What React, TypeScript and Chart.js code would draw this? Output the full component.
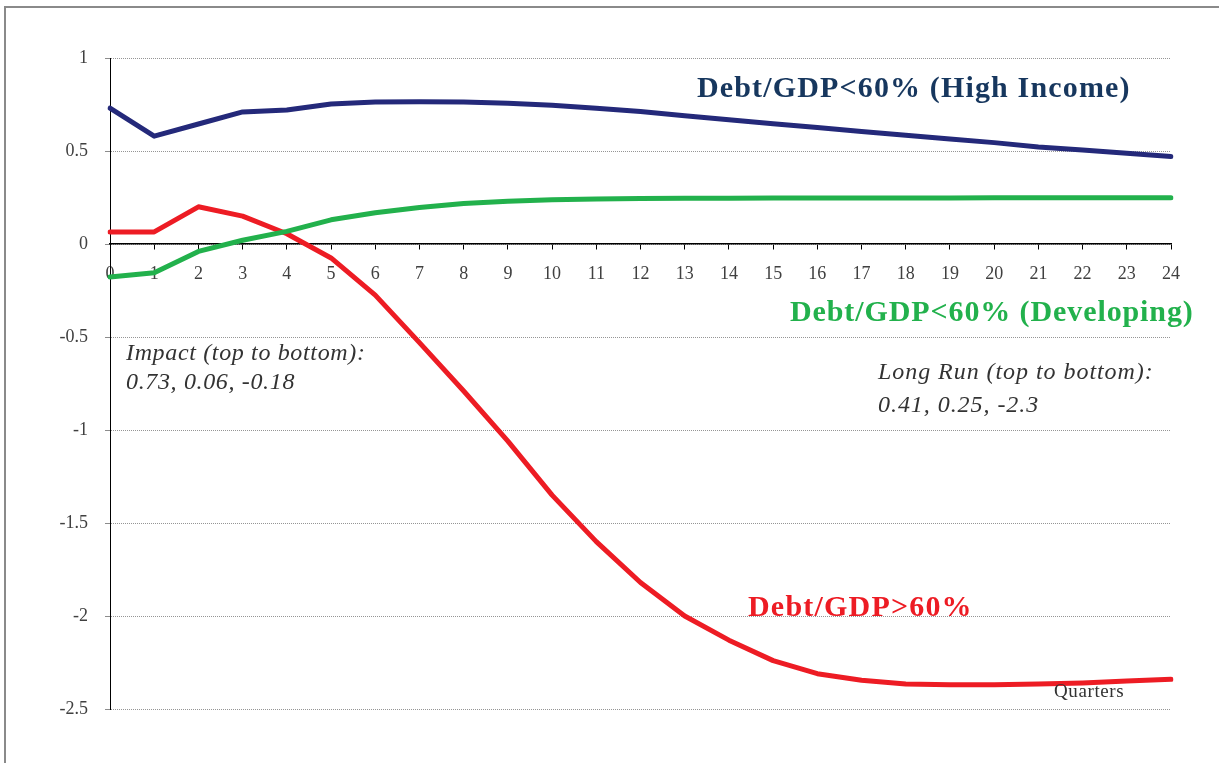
import React, { useEffect, useRef } from 'react';
import { Chart, registerables } from 'chart.js';

Chart.register(...registerables);

const quarters = ['0','1','2','3','4','5','6','7','8','9','10','11','12','13','14','15','16','17','18','19','20','21','22','23','24'];
const highIncome = [0.73, 0.58, 0.645, 0.71, 0.72, 0.753, 0.763, 0.765, 0.763, 0.757, 0.746, 0.73, 0.712, 0.69, 0.668, 0.647, 0.626, 0.605, 0.585, 0.565, 0.545, 0.522, 0.505, 0.488, 0.47];
const developing = [-0.177, -0.155, -0.04, 0.02, 0.068, 0.13, 0.168, 0.196, 0.218, 0.23, 0.238, 0.242, 0.244, 0.246, 0.246, 0.247, 0.247, 0.247, 0.247, 0.247, 0.248, 0.248, 0.248, 0.248, 0.248];
const highDebt = [0.065, 0.065, 0.2, 0.15, 0.055, -0.075, -0.275, -0.53, -0.79, -1.06, -1.35, -1.6, -1.82, -2.0, -2.13, -2.24, -2.31, -2.345, -2.365, -2.37, -2.37, -2.365, -2.36, -2.35, -2.34];
const yTicks = [1, 0.5, 0, -0.5, -1, -1.5, -2, -2.5];

const serif = '"Liberation Serif", "Times New Roman", serif';

const labelStyle = (left: number, top: number, color: string, size: number, extra: React.CSSProperties = {}): React.CSSProperties => ({
  position: 'absolute',
  left,
  top,
  color,
  fontFamily: serif,
  fontSize: size,
  lineHeight: 1,
  whiteSpace: 'nowrap',
  ...extra,
});

export default function App() {
  const canvasRef = useRef<HTMLCanvasElement | null>(null);

  useEffect(() => {
    if (!canvasRef.current) return;
    const chart = new Chart(canvasRef.current, {
      type: 'line',
      data: {
        labels: quarters,
        datasets: [
          { label: 'Debt/GDP<60% (High Income)', data: highIncome, borderColor: '#24297a', backgroundColor: '#24297a', borderWidth: 5, pointRadius: 0, tension: 0, borderCapStyle: 'round', borderJoinStyle: 'round' },
          { label: 'Debt/GDP<60% (Developing)', data: developing, borderColor: '#22b14c', backgroundColor: '#22b14c', borderWidth: 5, pointRadius: 0, tension: 0, borderCapStyle: 'round', borderJoinStyle: 'round' },
          { label: 'Debt/GDP>60%', data: highDebt, borderColor: '#ed1c24', backgroundColor: '#ed1c24', borderWidth: 5, pointRadius: 0, tension: 0, borderCapStyle: 'round', borderJoinStyle: 'round' },
        ],
      },
      options: {
        responsive: false,
        animation: false,
        events: [],
        layout: { padding: { top: 58, right: 48, bottom: 54, left: 0 } },
        plugins: { legend: { display: false }, tooltip: { enabled: false }, title: { display: false } },
        scales: {
          x: {
            type: 'category',
            position: { y: 0 } as any,
            offset: false,
            afterFit: (s: any) => { s.height = 0; },
            grid: { drawOnChartArea: false, drawTicks: true, tickLength: 5, tickColor: '#000', color: '#000' },
            border: { display: true, color: '#000', width: 1.5 },
            ticks: { autoSkip: false, maxRotation: 0, minRotation: 0, padding: 14, color: '#404040', font: { family: serif, size: 18 } },
          },
          y: {
            type: 'linear',
            min: -2.5,
            max: 1,
            afterFit: (s: any) => { s.width = 110; },
            afterBuildTicks: (s: any) => { s.ticks = yTicks.map((v) => ({ value: v })); },
            grid: { color: '#959595', lineWidth: 1, tickLength: 5, tickColor: '#8c8c8c', drawTicks: true },
            border: { display: true, color: '#000', width: 1, dash: [1, 1] },
            ticks: { padding: 17, color: '#404040', font: { family: serif, size: 18 }, callback: (v: any) => String(v) },
          },
        },
      },
    });
    return () => chart.destroy();
  }, []);

  return (
    <div style={{ position: 'fixed', left: 0, top: 0, width: 1219, height: 763, overflow: 'hidden', background: '#fff' }}>
      <canvas ref={canvasRef} width={1219} height={763} style={{ position: 'absolute', left: 0, top: 0, width: 1219, height: 763 }} />
      <div style={{ position: 'absolute', left: 4, top: 6, width: 1400, height: 1000, border: '2px solid #8a8a8a', pointerEvents: 'none' }} />
      <div style={labelStyle(697, 72, '#17375e', 30, { fontWeight: 'bold', letterSpacing: 1.15 })}>Debt/GDP&lt;60% (High Income)</div>
      <div style={labelStyle(790, 296, '#22b14c', 30, { fontWeight: 'bold', letterSpacing: 0.9 })}>Debt/GDP&lt;60% (Developing)</div>
      <div style={labelStyle(748, 591, '#ed1c24', 30, { fontWeight: 'bold', letterSpacing: 1.2 })}>Debt/GDP&gt;60%</div>
      <div style={labelStyle(126, 340, '#333333', 24, { fontStyle: 'italic', letterSpacing: 0.65 })}>Impact (top to bottom):</div>
      <div style={labelStyle(126, 369, '#333333', 24, { fontStyle: 'italic', letterSpacing: 0.65 })}>0.73, 0.06, -0.18</div>
      <div style={labelStyle(878, 359, '#333333', 24, { fontStyle: 'italic', letterSpacing: 0.95 })}>Long Run (top to bottom):</div>
      <div style={labelStyle(878, 392, '#333333', 24, { fontStyle: 'italic', letterSpacing: 0.95 })}>0.41, 0.25, -2.3</div>
      <div style={labelStyle(1054, 681, '#333333', 19, { letterSpacing: 0.6 })}>Quarters</div>
    </div>
  );
}
